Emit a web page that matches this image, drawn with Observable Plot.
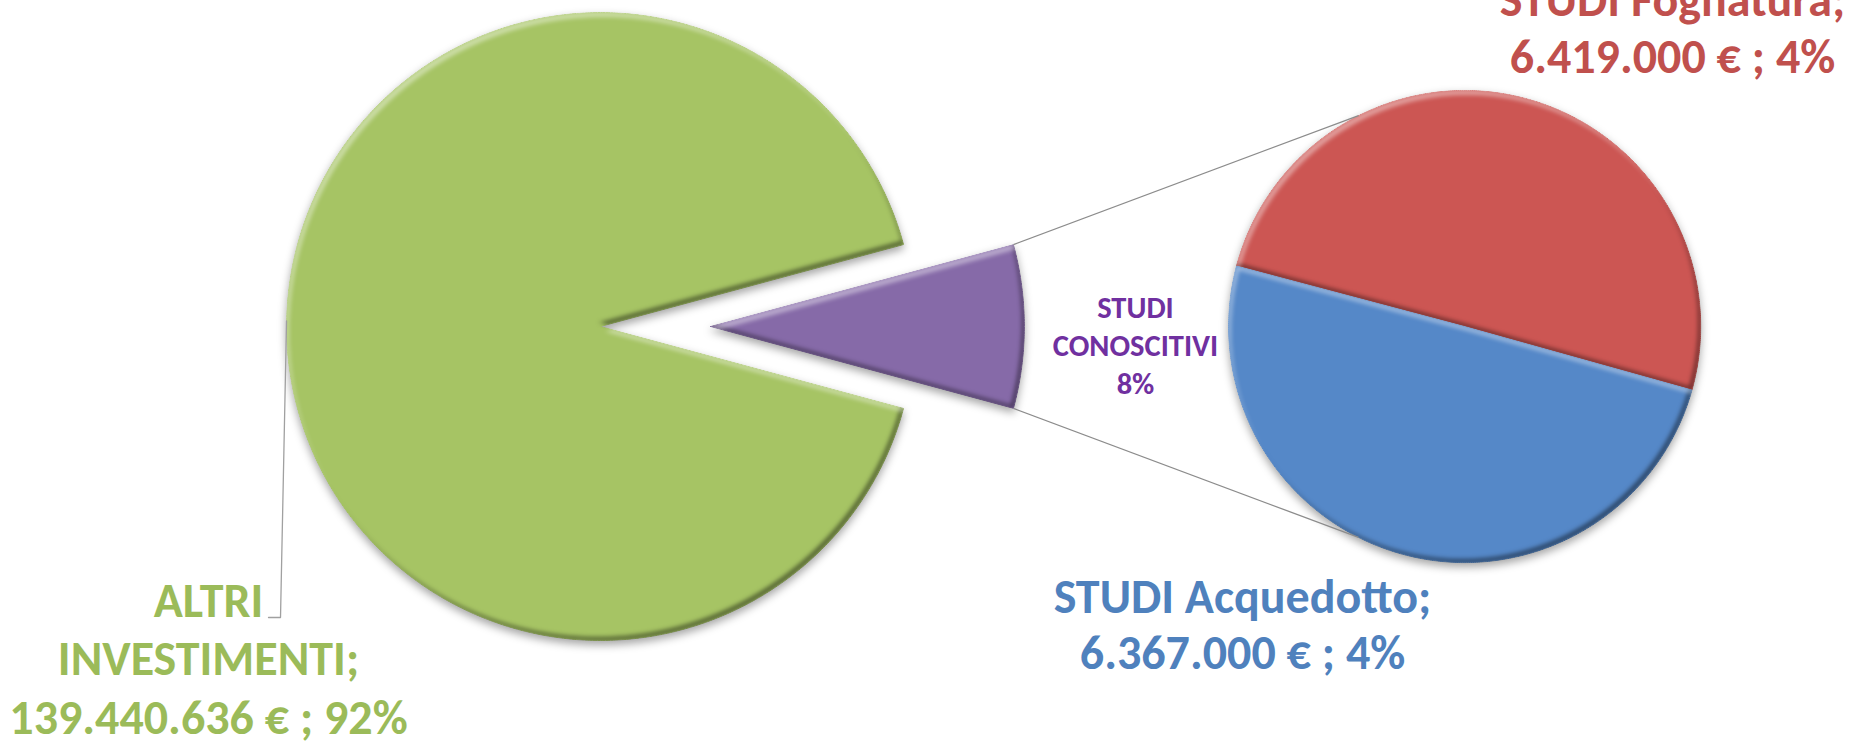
<!DOCTYPE html>
<html>
<head>
<meta charset="utf-8">
<script src="https://cdn.jsdelivr.net/npm/d3@7"></script>
<script src="https://cdn.jsdelivr.net/npm/@observablehq/plot@0.6"></script>
<style>
  html, body { margin: 0; padding: 0; background: #ffffff; }
  #chart { width: 1853px; height: 741px; overflow: hidden; }
</style>
</head>
<body>
<div id="chart"></div>
<script>
// ---------------- DATA ----------------
const mainCategories = ["ALTRI INVESTIMENTI", "STUDI CONOSCITIVI"];
const altriValue = 139440636;
const studiCategories = ["STUDI Fognatura", "STUDI Acquedotto"];
const studiValues = [6419000, 6367000];

// ---------------- STYLE / LAYOUT ----------------
const W = 1853, H = 741;
const U = 314;                       // pixels per chart unit (main pie radius = 1)
const mainCX = 600 / U, mainCY = 326 / U; // main pie centre measured from top-left
const explode = 0.35;                // purple slice pulled out
const secX = 2.752, secR = 0.752;    // secondary pie centre (x) and radius
const secStart = -15.6 * Math.PI / 180;
const connAngle = 116.7 * Math.PI / 180;

const fillMain = ["#A6C464", "#866AA8"];
const fillSec = ["#CC5653", "#5588C8"];
const textMain = ["#9BBB59", "#7030A0"];
const textSec = ["#C0504D", "#4F81BD"];
const FONT = "Carlito, Calibri, Lato, 'Open Sans', sans-serif";

// ---------------- DERIVED ----------------
const studiTotal = d3.sum(studiValues);
const mainValues = [altriValue, studiTotal];
const grand = d3.sum(mainValues);
const pct = v => Math.round(v / grand * 100) + "%";
const fmt = d3.formatLocale({decimal: ",", thousands: ".", grouping: [3], currency: ["", " €"]}).format(",d");

function slice(name, cx, cy, r, a0, a1) {
  const n = Math.max(12, Math.ceil(Math.abs(a1 - a0) * 120));
  const pts = [{name, x: cx, y: cy}];
  for (let i = 0; i <= n; ++i) {
    const a = a0 + (a1 - a0) * i / n;
    pts.push({name, x: cx + r * Math.cos(a), y: cy + r * Math.sin(a)});
  }
  pts.push({name, x: cx, y: cy});
  return pts;
}

const half = Math.PI * mainValues[1] / grand;
const slices = [
  {pts: slice(mainCategories[0], 0, 0, 1, half, 2 * Math.PI - half), fill: fillMain[0]},
  {pts: slice(mainCategories[1], explode, 0, 1, -half, half), fill: fillMain[1]}
];
let a = secStart;
studiValues.forEach((v, i) => {
  const span = 2 * Math.PI * v / studiTotal;
  slices.push({pts: slice(studiCategories[i], secX, 0, secR, a, a + span), fill: fillSec[i]});
  a += span;
});

// connector lines from the exploded slice to the secondary pie
const connectors = [1, -1].map(s => ({
  x1: explode + Math.cos(half), y1: s * Math.sin(half),
  x2: secX + secR * Math.cos(connAngle), y2: s * secR * Math.sin(connAngle)
}));

// leader line for the large label
const la = 179 * Math.PI / 180;
const leader = [
  {x: Math.cos(la), y: Math.sin(la)},
  {x: (280 - 600) / U, y: (326 - 617) / U},
  {x: (268 - 600) / U, y: (326 - 617) / U}
];

const px = (X, Y) => ({x: (X - 600) / U, y: (326 - Y) / U});

const labels = [
  {...px(208, 733), text: mainCategories[0].replace(" ", "\n") + ";\n" + fmt(altriValue) + " € ; " + pct(altriValue), fill: textMain[0], size: 48, lh: 58.5},
  {...px(1242, 668), text: studiCategories[1] + ";\n" + fmt(studiValues[1]) + " € ; " + pct(studiValues[1]), fill: textSec[1], size: 48, lh: 56},
  {...px(1672, 72), text: studiCategories[0] + ";\n" + fmt(studiValues[0]) + " € ; " + pct(studiValues[0]), fill: textSec[0], size: 48, lh: 57},
  {...px(1135, 393), text: mainCategories[1].replace(" ", "\n") + "\n" + pct(studiTotal), fill: textMain[1], size: 30.5, lh: 38}
];

const marks = [];
slices.forEach(s => marks.push(Plot.line(s.pts, {x: "x", y: "y", fill: s.fill, stroke: s.fill, strokeWidth: 1})));
marks.push(Plot.link(connectors, {x1: "x1", y1: "y1", x2: "x2", y2: "y2", stroke: "#8C8C8C", strokeWidth: 1.3}));
marks.push(Plot.line(leader, {x: "x", y: "y", stroke: "#A0A0A0", strokeWidth: 1.3}));
labels.forEach(l => marks.push(Plot.text([l], {
  x: "x", y: "y", text: "text", fill: l.fill, fontSize: l.size, fontWeight: "bold",
  fontFamily: FONT, lineAnchor: "bottom", lineHeight: l.lh / l.size, textAnchor: "middle"
})));

const chart = Plot.plot({
  width: W, height: H, margin: 0,
  x: {domain: [-mainCX, (W - 600) / U], range: [0, W], axis: null},
  y: {domain: [-(H - 326) / U, mainCY], range: [H, 0], axis: null},
  style: {background: "#ffffff", overflow: "hidden"},
  marks
});

// bevel + soft shadow filter (Excel-like 3D look)
const svg = d3.select(chart);
svg.insert("defs", ":first-child").html(`
<filter id="bevel" x="-8%" y="-8%" width="116%" height="120%" color-interpolation-filters="sRGB">
  <feGaussianBlur in="SourceAlpha" stdDeviation="4" result="sh"/>
  <feOffset in="sh" dx="0" dy="4" result="sho"/>
  <feFlood flood-color="#000" flood-opacity="0.35" result="shc"/>
  <feComposite in="shc" in2="sho" operator="in" result="shadow"/>
  <feOffset in="SourceAlpha" dx="-3" dy="-4" result="o1"/>
  <feComposite in="SourceAlpha" in2="o1" operator="out" result="b1"/>
  <feGaussianBlur in="b1" stdDeviation="2" result="b1b"/>
  <feFlood flood-color="#000" flood-opacity="0.5" result="c1"/>
  <feComposite in="c1" in2="b1b" operator="in" result="dk"/>
  <feOffset in="SourceAlpha" dx="3" dy="5" result="o2"/>
  <feComposite in="SourceAlpha" in2="o2" operator="out" result="b2"/>
  <feGaussianBlur in="b2" stdDeviation="2" result="b2b"/>
  <feFlood flood-color="#fff" flood-opacity="0.45" result="c2"/>
  <feComposite in="c2" in2="b2b" operator="in" result="lt"/>
  <feMerge result="body"><feMergeNode in="SourceGraphic"/><feMergeNode in="dk"/><feMergeNode in="lt"/></feMerge>
  <feComposite in="body" in2="SourceAlpha" operator="in" result="bodyc"/>
  <feMerge><feMergeNode in="shadow"/><feMergeNode in="bodyc"/></feMerge>
</filter>`);
svg.selectAll("g[aria-label='line']").filter(function() {
  const f = this.getAttribute("fill");
  return f && f !== "none";
}).attr("filter", "url(#bevel)");

document.getElementById("chart").appendChild(chart);
</script>
</body>
</html>
